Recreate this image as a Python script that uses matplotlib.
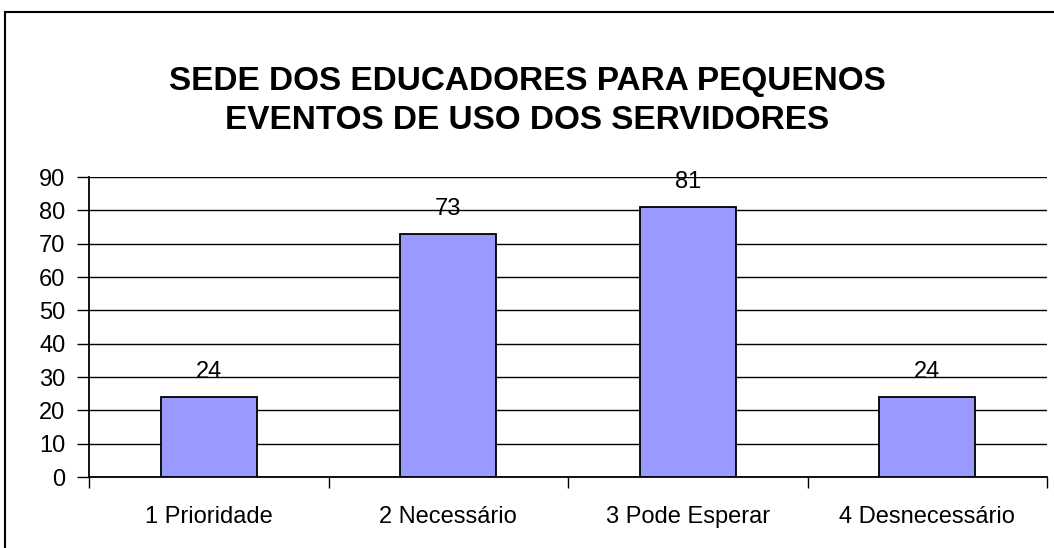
#!/usr/bin/env python3
# -*- coding: utf-8 -*-

import numpy as np
import matplotlib
matplotlib.use('Agg')
import matplotlib.pyplot as plt
from matplotlib.patches import Rectangle

categorias = ['1 Prioridade', '2 Necessário', '3 Pode Esperar', '4 Desnecessário']
valores = [24, 73, 81, 24]
titulo = 'SEDE DOS EDUCADORES PARA PEQUENOS\nEVENTOS DE USO DOS SERVIDORES'

plt.rcParams['font.family'] = ['Liberation Sans', 'DejaVu Sans']

fig = plt.figure(figsize=(10.54, 5.48), dpi=100)
ax = fig.add_axes([89/1054, 1-477/548, (1047-89)/1054, (477-177)/548])

# moldura em volta do gráfico (cortada à direita e embaixo)
fig.patches.append(Rectangle((5/1054, -0.05), 1.2, 1-12/548+0.05, transform=fig.transFigure,
                             fill=False, edgecolor='black', linewidth=1.5))

x = np.arange(len(categorias))
ax.bar(x, valores, width=0.4, color='#9999FF', edgecolor='black', linewidth=1.3, zorder=3)
for xi, v in zip(x, valores):
	ax.annotate(str(v), (xi, v), xytext=(0, 10), textcoords='offset points',
	            ha='center', va='bottom', fontsize=17)

ax.set_xlim(-0.5, len(categorias)-0.5)
ax.set_ylim(0, 90)
ax.set_yticks(range(0, 91, 10))
ax.tick_params(axis='y', labelsize=17, length=9, width=1, direction='out', pad=8)
ax.set_xticks(np.arange(-0.5, len(categorias), 1))
ax.set_xticklabels([])
ax.set_xticks(x, minor=True)
ax.set_xticklabels(categorias, minor=True)
ax.tick_params(axis='x', which='major', length=8, width=1, direction='out')
ax.tick_params(axis='x', which='minor', length=0, labelsize=17, pad=21)
ax.grid(axis='y', color='black', linewidth=1, zorder=0)
for s in ['top', 'right']:
	ax.spines[s].set_visible(False)
ax.spines['left'].set_linewidth(1.3)
ax.spines['bottom'].set_linewidth(1.3)

fig.text(0.5, 1-101/548, titulo, ha='center', va='center', fontsize=24,
         fontweight='bold', linespacing=1.3)

fig.savefig('out.png', dpi=100)
